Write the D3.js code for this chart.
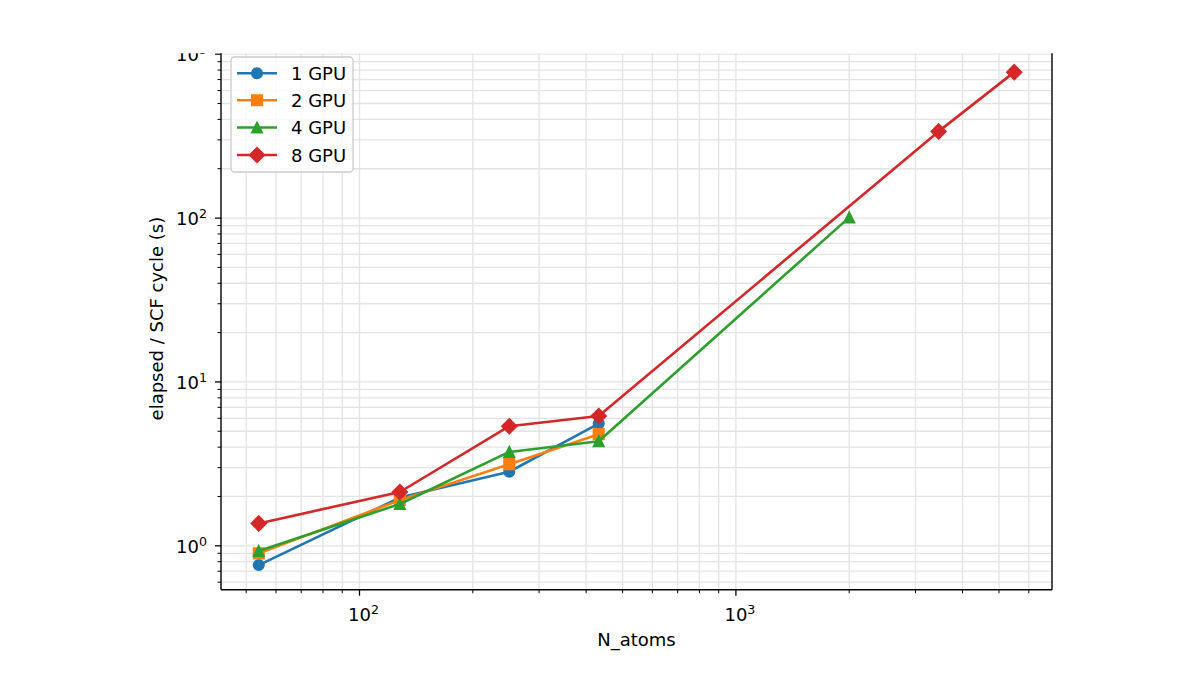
<!DOCTYPE html>
<html>
<head>
<meta charset="utf-8">
<script src="https://cdn.jsdelivr.net/npm/d3@7"></script>
<style>
  body { margin: 0; background: #fff; }
  svg { display: block; font-family: "DejaVu Sans", sans-serif; }
</style>
</head>
<body>
<div id="chart"></div>
<script>
// values
var seriesNames = ['1 GPU', '2 GPU', '4 GPU', '8 GPU'];
var atoms_1gpu = [54, 128, 250, 432];
var time_1gpu = [0.763, 1.97, 2.83, 5.57];
var atoms_2gpu = [54, 128, 250, 432];
var time_2gpu = [0.899, 1.90, 3.15, 4.80];
var atoms_4gpu = [54, 128, 250, 432, 2000];
var time_4gpu = [0.93, 1.80, 3.74, 4.35, 101];
var atoms_8gpu = [54, 128, 250, 432, 3456, 5488];
var time_8gpu = [1.37, 2.13, 5.37, 6.20, 338, 777];

var xMajorTicks = [100, 1000];
var yMajorTicks = [1, 10, 100, 1000];

var colors = ['#1f77b4', '#ff7f0e', '#2ca02c', '#d62728'];
var markers = ['circle', 'square', 'triangle', 'diamond'];

var series = [
    {name: seriesNames[0], x: atoms_1gpu, y: time_1gpu},
    {name: seriesNames[1], x: atoms_2gpu, y: time_2gpu},
    {name: seriesNames[2], x: atoms_4gpu, y: time_4gpu},
    {name: seriesNames[3], x: atoms_8gpu, y: time_8gpu}
];

var W = 1200, H = 675;
var pLeft = 221, pRight = 1052, pBottom = 589.7, pTop = 47.5;
var fs = 18;

var svg = d3.select('#chart').append('svg')
    .attr('width', W).attr('height', H);

// the original picture is cut off just above the plot
svg.append('clipPath').attr('id', 'pageclip')
    .append('rect').attr('x', 0).attr('y', 53.3).attr('width', W).attr('height', H);

var g = svg.append('g').attr('clip-path', 'url(#pageclip)');

// log autoscale with 5% margin like matplotlib
function logDomain(vals) {
    var lo = Math.log10(d3.min(vals)), hi = Math.log10(d3.max(vals));
    var m = (hi - lo) * 0.05;
    return [Math.pow(10, lo - m), Math.pow(10, hi + m)];
}
var allX = [], allY = [];
series.forEach(function(s){ allX = allX.concat(s.x); allY = allY.concat(s.y); });

var x = d3.scaleLog().domain(logDomain(allX)).range([pLeft, pRight]);
var y = d3.scaleLog().domain(logDomain(allY)).range([pBottom, pTop]);

// minor ticks
function minorTicks(scale) {
    var d = scale.domain(), out = [];
    for (var e = Math.floor(Math.log10(d[0])); e <= Math.ceil(Math.log10(d[1])); e++) {
        for (var k = 2; k <= 9; k++) {
            var v = k * Math.pow(10, e);
            if (v >= d[0] && v <= d[1]) out.push(v);
        }
    }
    return out;
}
var xMinor = minorTicks(x), yMinor = minorTicks(y);

// grid
var grid = g.append('g').attr('stroke', '#e3e3e3').attr('stroke-width', 1.3);
grid.selectAll('.gx').data(xMinor.concat(xMajorTicks)).enter().append('line')
    .attr('x1', function(d){ return x(d); }).attr('x2', function(d){ return x(d); })
    .attr('y1', pTop).attr('y2', pBottom);
grid.selectAll('.gy').data(yMinor.concat(yMajorTicks)).enter().append('line')
    .attr('y1', function(d){ return y(d); }).attr('y2', function(d){ return y(d); })
    .attr('x1', pLeft).attr('x2', pRight);

// lines and markers
var line = d3.line()
    .x(function(d){ return x(d[0]); })
    .y(function(d){ return y(d[1]); });

var ms = 10.4;
function markerPath(type) {
    var h = ms / 2;
    if (type == 'circle') return d3.symbol(d3.symbolCircle, Math.PI * h * h)();
    if (type == 'square') return 'M' + (-h) + ',' + (-h) + 'H' + h + 'V' + h + 'H' + (-h) + 'Z';
    if (type == 'triangle') return 'M0,' + (-h) + 'L' + h + ',' + h + 'L' + (-h) + ',' + h + 'Z';
    var r = h * Math.SQRT2;
    return 'M0,' + (-r) + 'L' + r + ',0L0,' + r + 'L' + (-r) + ',0Z';
}

series.forEach(function(s, i){
    var pts = s.x.map(function(v, j){ return [v, s.y[j]]; });
    g.append('path').datum(pts)
        .attr('fill', 'none').attr('stroke', colors[i]).attr('stroke-width', 2.6)
        .attr('stroke-linejoin', 'round')
        .attr('d', line);
    g.selectAll('.m' + i).data(pts).enter().append('path')
        .attr('d', markerPath(markers[i]))
        .attr('transform', function(d){ return 'translate(' + x(d[0]) + ',' + y(d[1]) + ')'; })
        .attr('fill', colors[i]).attr('stroke', colors[i]).attr('stroke-width', 1.7)
        .attr('stroke-linejoin', 'miter');
});

// spines
var spine = g.append('g').attr('stroke', '#000').attr('stroke-width', 1.4).attr('fill', 'none');
spine.append('line').attr('x1', pLeft).attr('x2', pLeft).attr('y1', pTop).attr('y2', pBottom);
spine.append('line').attr('x1', pRight).attr('x2', pRight).attr('y1', pTop).attr('y2', pBottom);
spine.append('line').attr('x1', pLeft).attr('x2', pRight).attr('y1', pBottom).attr('y2', pBottom);
spine.append('line').attr('x1', pLeft).attr('x2', pRight).attr('y1', pTop).attr('y2', pTop);

// ticks
var tk = g.append('g').attr('stroke', '#000').attr('stroke-width', 1.3);
tk.selectAll('.xM').data(xMajorTicks).enter().append('line')
    .attr('x1', function(d){ return x(d); }).attr('x2', function(d){ return x(d); })
    .attr('y1', pBottom).attr('y2', pBottom + 6);
tk.selectAll('.xm').data(xMinor).enter().append('line')
    .attr('x1', function(d){ return x(d); }).attr('x2', function(d){ return x(d); })
    .attr('y1', pBottom).attr('y2', pBottom + 3.5).attr('stroke-width', 1.0);
tk.selectAll('.yM').data(yMajorTicks).enter().append('line')
    .attr('y1', function(d){ return y(d); }).attr('y2', function(d){ return y(d); })
    .attr('x1', pLeft).attr('x2', pLeft - 6);
tk.selectAll('.ym').data(yMinor).enter().append('line')
    .attr('y1', function(d){ return y(d); }).attr('y2', function(d){ return y(d); })
    .attr('x1', pLeft).attr('x2', pLeft - 3.5).attr('stroke-width', 1.0);

function powLabel(sel, d) {
    var e = Math.round(Math.log10(d));
    sel.append('tspan').text('10');
    sel.append('tspan').attr('dy', -7).attr('font-size', fs * 0.7).text(e);
}

g.selectAll('.xl').data(xMajorTicks).enter().append('text')
    .attr('x', function(d){ return x(d) + 4; })
    .attr('y', pBottom + 31)
    .attr('text-anchor', 'middle')
    .attr('font-size', fs)
    .each(function(d){ powLabel(d3.select(this), d); });

g.selectAll('.yl').data(yMajorTicks).enter().append('text')
    .attr('x', pLeft - 14)
    .attr('y', function(d){ return y(d) + 7; })
    .attr('text-anchor', 'end')
    .attr('font-size', fs)
    .each(function(d){ powLabel(d3.select(this), d); });

// axis labels
g.append('text')
    .attr('x', (pLeft + pRight) / 2).attr('y', 646)
    .attr('text-anchor', 'middle').attr('font-size', fs)
    .text('N_atoms');
g.append('text')
    .attr('transform', 'translate(163,' + ((pTop + pBottom) / 2) + ') rotate(-90)')
    .attr('text-anchor', 'middle').attr('font-size', fs)
    .text('elapsed / SCF cycle (s)');

// legend
var leg = g.append('g');
leg.append('rect')
    .attr('x', 231).attr('y', 57).attr('width', 122).attr('height', 115)
    .attr('rx', 3.5).attr('fill', '#fff').attr('fill-opacity', 0.8)
    .attr('stroke', '#cccccc').attr('stroke-width', 1.3);
var rowY = [73.3, 100.3, 127.5, 155];
series.forEach(function(s, i){
    var ry = rowY[i];
    leg.append('line').attr('x1', 237).attr('x2', 277).attr('y1', ry).attr('y2', ry)
        .attr('stroke', colors[i]).attr('stroke-width', 2.6);
    leg.append('path').attr('d', markerPath(markers[i]))
        .attr('transform', 'translate(257,' + ry + ')')
        .attr('fill', colors[i]).attr('stroke', colors[i]).attr('stroke-width', 1.7);
    leg.append('text').attr('x', 291).attr('y', ry + 6.5)
        .attr('font-size', fs).text(s.name);
});
</script>
</body>
</html>
